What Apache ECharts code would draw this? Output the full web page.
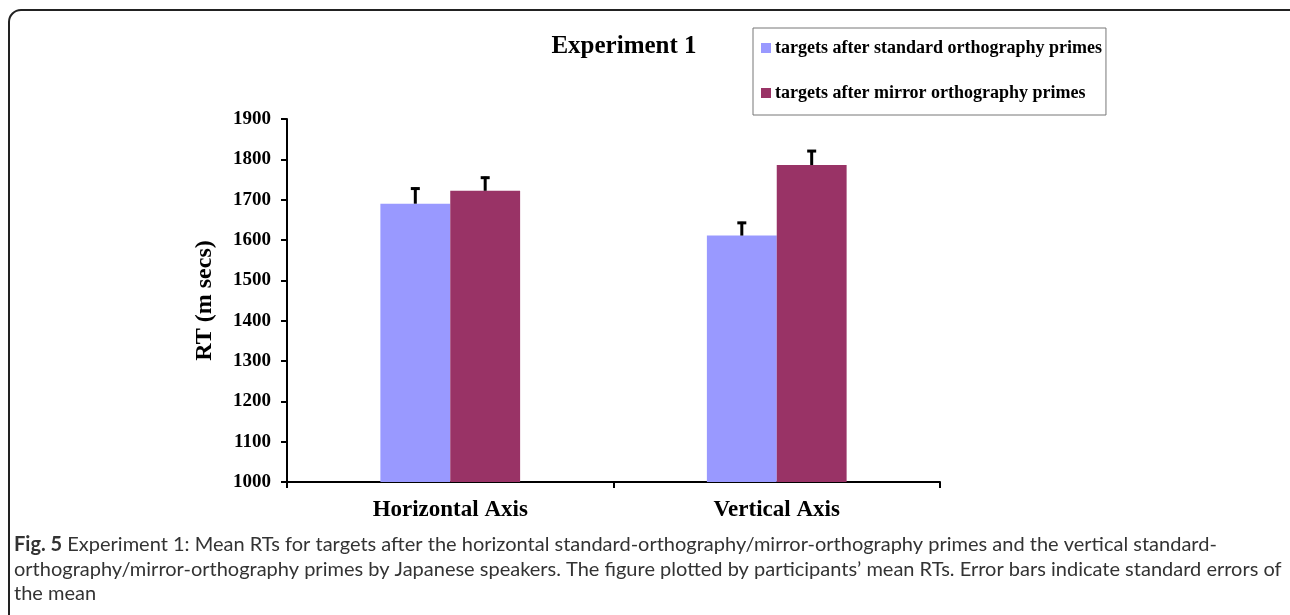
<!DOCTYPE html>
<html>
<head>
<meta charset="utf-8">
<script src="https://cdn.jsdelivr.net/npm/echarts@6/dist/echarts.min.js"></script>
<style>
html,body{margin:0;padding:0;background:#fff;}
#chart{width:1290px;height:615px;}
</style>
</head>
<body>
<div id="chart"></div>
<script>
var categories = ['Horizontal Axis', 'Vertical Axis'];
var seriesNames = ['targets after standard orthography primes', 'targets after mirror orthography primes'];
var standardMeans = [1690, 1611];
var mirrorMeans = [1722, 1786];
var standardErrors = [40, 34];
var mirrorErrors = [35, 37];
var yTicks = { min: 1000, max: 1900, interval: 100 };
var chartTitle = 'Experiment 1';
var yName = 'RT (m secs)';
var captionLines = [
  'Experiment 1: Mean RTs for targets after the horizontal standard-orthography/mirror-orthography primes and the vertical standard-',
  'orthography/mirror-orthography primes by Japanese speakers. The figure plotted by participants\u2019 mean RTs. Error bars indicate standard errors of',
  'the mean'
];

var colors = ['#9999FF', '#993366'];
var serif = '"Liberation Serif", "Times New Roman", serif';
var sans = 'Lato, "Open Sans", sans-serif';
var BAR_FRAC = 0.214;

function errSeries(means, errs, side) {
  var data = means.map(function (m, i) { return [i, m, m + errs[i]]; });
  return {
    type: 'custom',
    silent: true,
    z: 5,
    data: data,
    encode: { x: 0, y: [1, 2] },
    renderItem: function (params, api) {
      var band = api.size([1, 0])[0];
      var off = side * band * BAR_FRAC / 2;
      var p0 = api.coord([api.value(0), api.value(1)]);
      var p1 = api.coord([api.value(0), api.value(2)]);
      var x = p0[0] + off;
      return {
        type: 'group',
        children: [
          { type: 'line', shape: { x1: x, y1: p0[1], x2: x, y2: p1[1] }, style: { stroke: '#000', lineWidth: 3 } },
          { type: 'line', shape: { x1: x - 4.5, y1: p1[1] + 1, x2: x + 4.5, y2: p1[1] + 1 }, style: { stroke: '#000', lineWidth: 3 } }
        ]
      };
    }
  };
}

var chart = echarts.init(document.getElementById('chart'), null, { renderer: 'canvas' });
chart.setOption({
  backgroundColor: '#fff',
  animation: false,
  title: {
    text: chartTitle,
    left: 619, top: 29, textAlign: 'center',
    textStyle: { fontFamily: serif, fontWeight: 'bold', fontSize: 25, color: '#000' }
  },
  legend: {
    orient: 'vertical',
    left: 753, top: 28,
    padding: [11, 4, 13, 8],
    itemGap: 27,
    itemWidth: 10, itemHeight: 10,
    icon: 'rect',
    borderColor: '#777', borderWidth: 1,
    data: seriesNames,
    textStyle: { fontFamily: serif, fontWeight: 'bold', fontSize: 18, color: '#000', padding: [0, 0, 0, -1] }
  },
  grid: { left: 287, right: 350, top: 119, bottom: 133, containLabel: false },
  xAxis: {
    type: 'category',
    data: categories,
    axisLine: { lineStyle: { color: '#000', width: 2 } },
    axisTick: { show: true, alignWithLabel: false, length: 6, lineStyle: { color: '#000', width: 2 } },
    axisLabel: { fontFamily: serif, fontWeight: 'bold', fontSize: 23, color: '#000', margin: 17 }
  },
  yAxis: {
    type: 'value',
    min: yTicks.min, max: yTicks.max, interval: yTicks.interval,
    name: yName,
    nameLocation: 'middle',
    nameGap: 70,
    nameRotate: 90,
    nameTextStyle: { fontFamily: serif, fontWeight: 'bold', fontSize: 24, color: '#000' },
    axisLine: { show: true, lineStyle: { color: '#000', width: 2 } },
    axisTick: { show: true, length: 6, lineStyle: { color: '#000', width: 2 } },
    splitLine: { show: false },
    axisLabel: { fontFamily: serif, fontWeight: 'bold', fontSize: 19, color: '#000', margin: 16, formatter: function (v) { return String(v); } }
  },
  series: [
    { name: seriesNames[0], type: 'bar', data: standardMeans, barWidth: (BAR_FRAC * 100) + '%', barGap: '0%', itemStyle: { color: colors[0] } },
    { name: seriesNames[1], type: 'bar', data: mirrorMeans, barWidth: (BAR_FRAC * 100) + '%', barGap: '0%', itemStyle: { color: colors[1] } },
    errSeries(standardMeans, standardErrors, -1),
    errSeries(mirrorMeans, mirrorErrors, 1)
  ],
  graphic: [
    { type: 'rect', silent: true, z: -1, shape: { x: 9, y: 10, width: 1300, height: 700, r: 12 }, style: { fill: 'none', stroke: '#222', lineWidth: 2 } },
    {
      type: 'text', left: 14, top: 535,
      style: {
        text: '{b|Fig. 5} ' + captionLines[0],
        font: '20px ' + sans, fill: '#333',
        rich: { b: { fontFamily: sans, fontWeight: 'bold', fontSize: 20, fill: '#333' } }
      }
    },
    { type: 'text', left: 14, top: 560, style: { text: captionLines[1], font: '20px ' + sans, fill: '#333' } },
    { type: 'text', left: 14, top: 584, style: { text: captionLines[2], font: '20px ' + sans, fill: '#333' } }
  ]
});
</script>
</body>
</html>
